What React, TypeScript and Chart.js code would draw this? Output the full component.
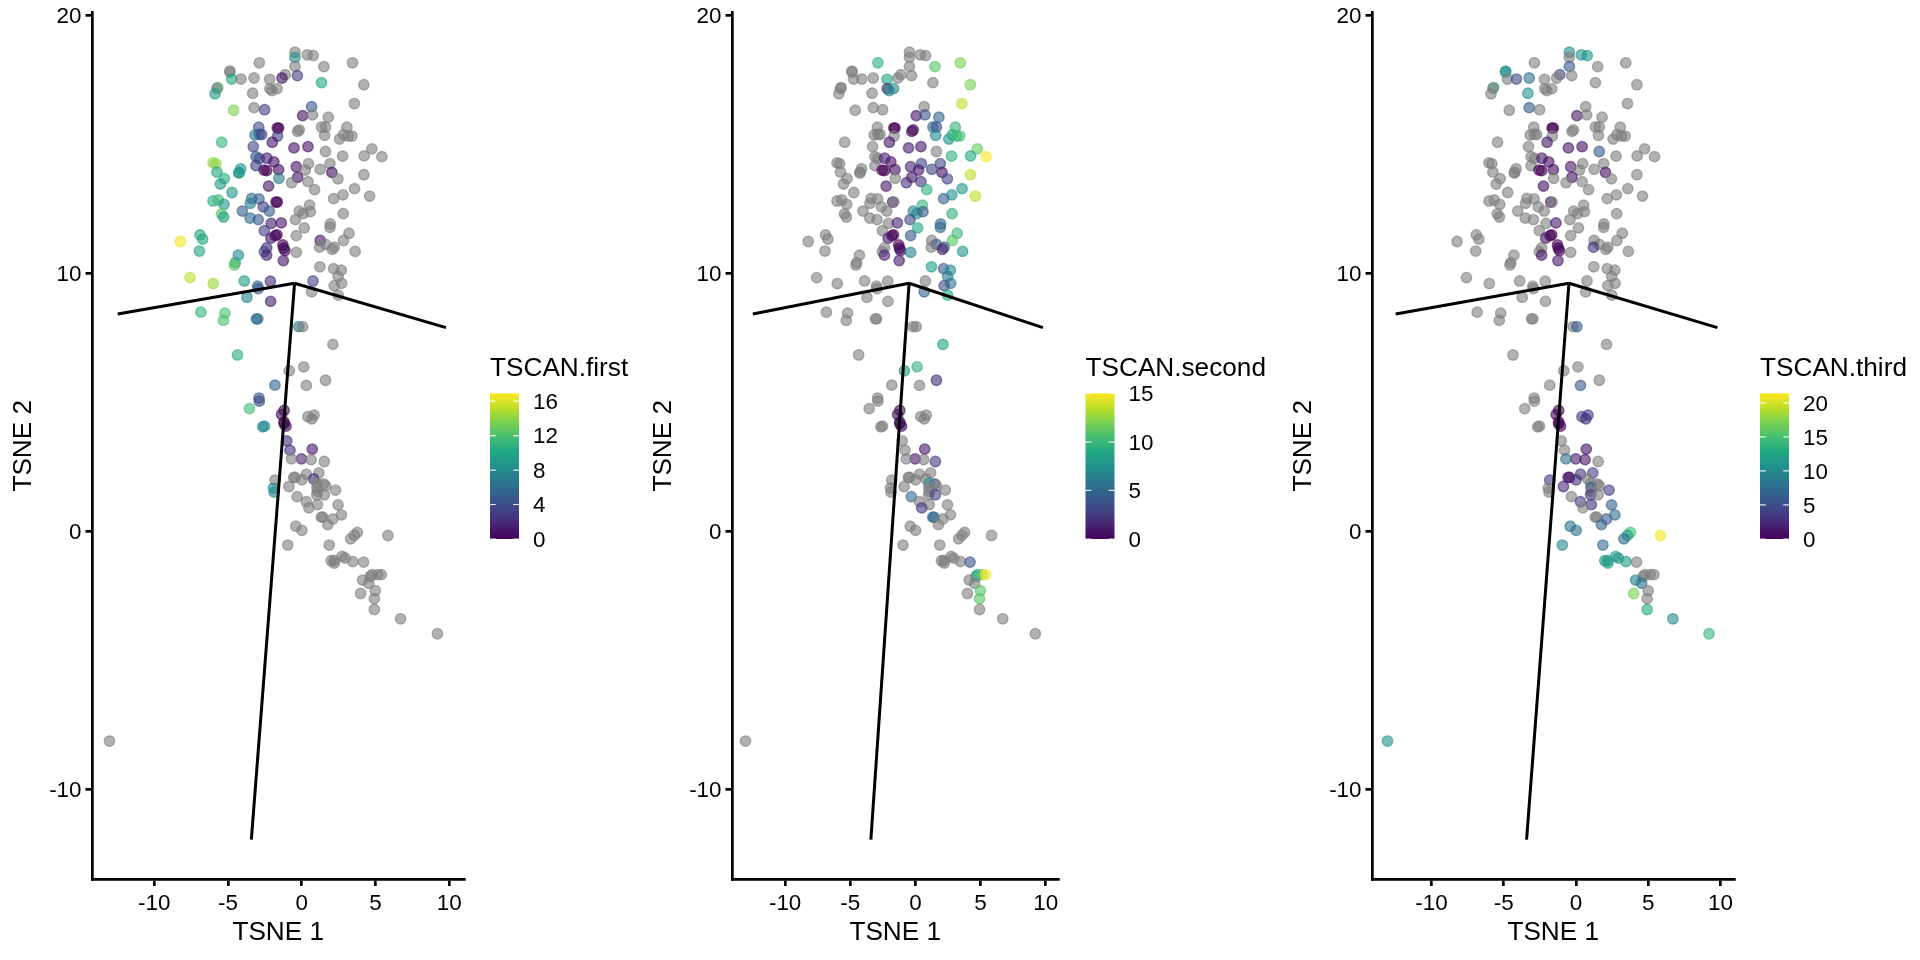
import { useEffect, useRef } from "react"
import { Chart, registerables } from "chart.js"

Chart.register(...registerables)

const _ = null

const tsne1 = [
  -0.46, -0.46, 0.37, 0.78, -2.88, -0.46, 1.5, 3.44, -4.87, -4.87,
  -4.75, -4.12, -3.24, -2.18, -1.12, -1.34, -0.3, 1.34, 4.21, -5.7,
  -5.75, -5.88, -3.33, -2.16, -2.02, -1.68, 3.56, -4.62, -3.24, -2.52,
  0.67, 0.06, 0.73, 1.8, -2.92, -3.17, -2.88, -2.72, -1.66, -1.57,
  -1.64, -2.0, -0.17, -0.28, 1.34, 1.61, 3.06, 1.55, 2.56, 2.83,
  3.15, 3.4, -5.43, -3.29, -0.53, 0.42, 4.75, 1.61, 2.77, 4.23,
  5.43, -3.11, -2.88, -2.36, -1.89, -6.02, -5.82, 0.46, 1.91, -3.11,
  -0.37, -4.14, -4.26, -4.26, -5.75, -2.56, -2.38, -1.57, 0.24, 1.25,
  2.04, 4.21, -5.25, -5.52, -1.55, -0.28, -0.69, 0.42, 2.45, -2.25,
  0.87, 3.58, -4.73, 4.6, 2.79, 2.16, -3.4, -2.9, -6.02, -5.66,
  -3.49, -1.75, -1.66, -5.27, -2.61, 0.53, -0.17, -2.2, -4.03, 0.1,
  0.58, 2.81, -5.45, -5.3, -3.51, -2.95, -0.42, -2.07, -1.39, 1.93,
  1.91, 0.17, -2.54, 3.2, -0.37, -1.68, -1.8, -2.09, -6.9, -6.72,
  -8.23, -6.94, 1.25, 2.83, 1.61, 1.21, 2.2, 2.07, 3.62, -1.28,
  -1.23, -1.14, -2.38, -2.54, -2.38, -0.37, -4.3, -4.51, -4.57, -1.25,
  1.23, 2.16, 2.68, 2.47, -7.58, -6.0, -3.9, -2.13, 0.76, 2.7,
  2.2, -2.99, -2.95, 0.67, 2.47, -3.72, -2.11, -6.84, -5.21, -5.31,
  -3.08, -2.98, -0.2, 0.06, 2.11, -4.36, 0.13, -0.85, -1.82, 0.31,
  1.61, -2.9, -2.88, -3.55, -1.2, -1.37, 0.41, 0.83, 0.68, -1.2,
  -1.2, -1.07, -2.53, -2.65, -1.02, 0.71, -0.8, -0.02, -0.7, 0.63,
  1.53, 1.16, 0.31, -0.55, -0.45, 0.01, -1.82, 0.81, 1.48, 1.03,
  1.03, 1.61, -0.87, -1.92, -1.87, 2.29, 1.06, 1.01, 1.53, -0.32,
  0.31, 1.06, 2.46, 0.48, 2.69, 1.33, 1.43, 2.11, 1.76, -0.4,
  0.01, 3.77, 3.56, 3.31, 5.84, -0.95, 1.86, 2.74, 2.94, 1.99,
  2.19, 2.21, 3.46, 4.19, 4.77, 4.64, 5.14, 5.39, 4.12, 4.54,
  4.99, 3.99, 4.92, 4.92, 6.7, 9.2, -13.04,
]

const tsne2 = [
  18.58, 18.38, 18.48, 18.45, 18.17, 18.03, 18.02, 18.17, 17.85, 17.81,
  17.54, 17.54, 17.58, 17.53, 17.71, 17.58, 17.67, 17.4, 17.32, 17.21,
  17.18, 16.97, 16.99, 17.17, 17.09, 17.17, 16.59, 16.33, 16.43, 16.35,
  16.47, 16.12, 16.15, 16.06, 15.67, 15.37, 15.4, 15.39, 15.64, 15.64,
  15.33, 15.09, 15.57, 15.51, 15.68, 15.68, 15.67, 15.36, 15.21, 15.38,
  15.33, 15.33, 15.09, 14.92, 14.87, 14.92, 14.83, 14.73, 14.55, 14.56,
  14.53, 14.53, 14.46, 14.47, 14.33, 14.29, 14.26, 14.26, 14.26, 14.18,
  14.14, 14.06, 13.93, 13.89, 13.93, 14.01, 13.99, 14.03, 14.01, 14.04,
  13.92, 13.83, 13.68, 13.47, 13.69, 13.73, 13.52, 13.56, 13.67, 13.39,
  13.25, 13.29, 13.14, 13.0, 13.05, 12.9, 12.91, 12.89, 12.81, 12.85,
  12.72, 12.77, 12.77, 12.68, 12.58, 12.65, 12.42, 12.42, 12.42, 12.32,
  12.4, 12.32, 12.31, 12.19, 12.15, 12.09, 12.09, 11.94, 11.96, 11.92,
  11.79, 11.77, 11.66, 11.56, 11.47, 11.5, 11.47, 11.37, 11.5, 11.33,
  11.24, 10.87, 11.28, 11.28, 11.13, 11.02, 11.02, 10.94, 10.86, 11.11,
  10.98, 10.89, 10.99, 10.85, 10.71, 10.82, 10.71, 10.42, 10.33, 10.5,
  10.26, 10.19, 10.13, 9.89, 9.84, 9.61, 9.71, 9.7, 9.71, 9.62,
  9.53, 9.51, 9.41, 9.29, 9.16, 9.08, 8.92, 8.5, 8.46, 8.18,
  8.24, 8.24, 7.94, 7.94, 7.25, 6.84, 6.38, 6.23, 5.67, 5.66,
  5.86, 5.17, 5.05, 4.76, 4.69, 4.53, 4.45, 4.51, 4.36, 4.24,
  4.17, 4.08, 4.08, 4.05, 3.51, 3.19, 3.15, 2.81, 2.81, 2.78,
  2.71, 2.27, 2.22, 2.09, 2.09, 2.0, 1.99, 2.03, 1.84, 1.87,
  1.7, 1.77, 1.74, 1.68, 1.52, 1.6, 1.55, 1.42, 1.42, 1.35,
  1.15, 1.04, 1.03, 0.91, 0.64, 0.55, 0.55, 0.48, 0.26, 0.2,
  0.04, -0.04, -0.15, -0.29, -0.16, -0.53, -0.53, -0.97, -1.04, -1.14,
  -1.13, -1.23, -1.17, -1.19, -1.68, -1.75, -1.68, -1.68, -1.89, -2.01,
  -2.3, -2.41, -2.61, -3.03, -3.39, -3.97, -8.13,
]

const tscanFirst = [
  _, 8, _, _, _, _, _, _, _, _,
  10, _, _, _, _, 1, 3, 10, _, 12,
  _, 9.5, _, _, _, _, _, 13.5, _, 3,
  4.5, 0.7, _, _, 4, 7, 5, 3.5, 0, 0,
  3, 1, _, _, _, _, _, _, _, _,
  _, _, 11, 3.5, 1, 1, _, _, _, _,
  _, 4.5, 4, 1.5, 1, 14, 14, _, _, 3,
  1, 9, 9, 9, 10, 0, 0, 0.5, _, _,
  0.5, _, 10.5, 9, 7, 0.7, _, _, _, 1,
  _, _, 9, _, _, _, 6, 5, 10.5, 11.5,
  7, 0, 0, 9, 3, _, _, 5, 5, _,
  _, _, 12.5, 9.5, 6, 5, _, 1.5, 1, _,
  _, _, 3, _, _, 0, 0, 1, 10, 10,
  16.5, 10, 1, _, _, _, _, _, _, 0,
  0, 0.5, 2, 4, 1.5, _, 8, 10, 12.5, 1,
  _, _, _, _, 15, 14.5, 9, 2, 3.5, _,
  _, 5, 5, _, _, 7.5, 1.5, 11, 12, 12,
  6, 6, 7, _, _, 10.5, _, _, 5.5, _,
  _, 4, 4, 11.5, 0.5, 0.5, _, _, _, 0.2,
  0.2, 0.5, 8, 8, 2, 1, 2.5, 1.5, _, _,
  _, _, _, _, _, _, _, 2, _, _,
  _, _, _, 8, 8, _, _, _, _, _,
  _, _, _, _, _, _, _, _, _, _,
  _, _, _, _, _, _, _, _, _, _,
  _, _, _, _, _, _, _, _, _, _,
  _, _, _, _, _, _, _,
]

const tscanSecond = [
  _, _, _, _, 9.5, _, 11, 12, _, _,
  _, _, _, 9, _, _, _, _, 12, _,
  _, _, _, 1, 7, 7, 13.5, _, _, _,
  _, 1, 4, 5, _, _, _, _, 0, 0,
  _, 1, 0.3, 0.3, 5.5, 3.5, 10, 7, 7.5, 9,
  10, 10.5, _, _, 1.5, 1, 11.5, _, 9.5, 9,
  15, _, _, 1.5, 1, _, _, 3, 3.5, _,
  1.5, _, _, _, _, 0, 0, 0.5, 1, 3,
  0.7, 13.5, _, _, _, 1, 2, 2.5, 3, 1,
  9.5, 8, _, 13.5, 7.5, 4.5, _, _, _, _,
  _, 1, _, _, _, 10, 7, _, _, 7,
  4, 9.5, _, _, _, _, 3.5, _, 1.5, 5,
  5, 9, _, 10, 4, 0, 0, 1, _, _,
  _, _, _, 11, 4, _, 4, 1.5, 8, 0,
  0, 0.5, _, _, 1.5, 6.5, _, _, _, 1,
  8.5, 4, 7, 6.5, _, _, _, _, _, 6,
  3.5, _, _, 4.5, 9, _, _, _, _, _,
  _, _, _, _, 8.5, _, 9.5, 8, _, _,
  2, _, _, _, 0.5, 0.5, _, _, _, 0.2,
  0.2, 0.5, _, _, _, 1, _, 1, _, _,
  2.5, _, _, _, _, _, _, _, 3, 7,
  _, _, _, _, _, _, _, _, 3, 5,
  _, _, _, 2.5, _, 5, 5, _, _, _,
  _, _, _, _, _, _, _, _, _, _,
  _, _, _, 4, 8.5, 9, 11.5, 15, _, _,
  11, _, 11, _, _, _, _,
]

const tscanThird = [
  10, _, 11, 11, _, 6, _, _, 11, 11,
  _, 5, 8, _, 5, _, _, _, _, 13,
  _, _, 11, _, _, _, _, _, 6, _,
  _, 1.5, _, _, _, _, _, _, 0, 0,
  _, 1.5, _, _, _, _, _, _, _, _,
  _, _, _, _, 1.5, 1, _, 6, _, _,
  _, _, _, 1.5, 1, _, _, _, _, _,
  1.5, _, _, _, _, 0, 0, 0.5, _, _,
  1, _, _, _, _, 1, _, _, _, 1,
  _, _, _, _, _, _, _, _, _, _,
  _, 1, _, _, _, _, _, _, _, _,
  _, _, _, _, _, _, _, _, 1.5, _,
  _, _, _, _, _, 0, 0, 1, _, _,
  _, _, _, _, _, 3, _, _, _, 0,
  0, 0.5, _, _, 1.5, _, _, _, _, 1.5,
  _, _, _, _, _, _, _, _, _, _,
  _, _, _, _, _, _, _, _, _, _,
  _, _, _, 6, _, _, _, _, _, 6,
  _, _, _, _, 0.5, 0.5, 4, 4, 3, 0.2,
  0.2, 0.5, _, _, _, 1, _, 1.5, 8, 1.5,
  _, 4, 3.5, 1, 1, 3, 4, _, _, _,
  6, _, 2.5, _, _, 4, _, 3.5, _, _,
  4, 3, 6.5, _, 7.5, _, _, 6, 6.5, 8,
  8, 15, 12, 7.5, 21, 10, 7.5, 12, 11, 11,
  12, 12, 12, _, _, _, _, _, 9, 8,
  _, 17, _, 13, 10, 14, 11,
]

// trajectory: centre node and the three ends
const centreNode = [-0.49, 9.62]
const branchEnds = [
  [-12.48, 8.43],
  [9.78, 7.9],
  [-3.42, -11.95],
]

const xTicks = [-10, -5, 0, 5, 10]
const yTicks = [-10, 0, 10, 20]

const viridis = ["#440154", "#482475", "#414487", "#355f8d", "#2a788e", "#21918c", "#22a884", "#44bf70", "#7ad151", "#bddf26", "#fde725"]

const FONT = "'Liberation Sans', Arial, sans-serif"
const CANVAS_W = 640
const CANVAS_H = 960
const AXIS_LEFT = 92.5
const AXIS_BOTTOM = 879
const AXIS_TOP = 12.5
const BAR_TOP = 393.3
const BAR_BOTTOM = 539

const panels = [
  { name: "TSCAN.first", values: tscanFirst, domainMax: 16.9, legendTicks: [0, 4, 8, 12, 16], left: 0, right: 464, legendX: 490, xMin: -14.19, xMax: 11 },
  { name: "TSCAN.second", values: tscanSecond, domainMax: 15, legendTicks: [0, 5, 10, 15], left: 640, right: 1058, legendX: 1085.5, xMin: -14.04, xMax: 10.94 },
  { name: "TSCAN.third", values: tscanThird, domainMax: 21.4, legendTicks: [0, 5, 10, 15, 20], left: 1280, right: 1734, legendX: 1760, xMin: -14.08, xMax: 10.93 },
]

function hexToRgb(hex: string) {
  return [1, 3, 5].map((i) => parseInt(hex.slice(i, i + 2), 16))
}

function viridisColor(t: number, alpha: number) {
  const pos = Math.min(Math.max(t, 0), 1) * (viridis.length - 1)
  const i = Math.min(Math.floor(pos), viridis.length - 2)
  const a = hexToRgb(viridis[i])
  const b = hexToRgb(viridis[i + 1])
  const rgb = a.map((c, k) => Math.round(c + (b[k] - c) * (pos - i)))
  return `rgba(${rgb[0]}, ${rgb[1]}, ${rgb[2]}, ${alpha})`
}

function pointColor(value: number | null, domainMax: number, alpha: number) {
  if (value === null) return `rgba(127, 127, 127, ${alpha})`
  return viridisColor(value / domainMax, alpha)
}

function Panel({ panel }: { panel: (typeof panels)[number] }) {
  const chartRef = useRef<HTMLCanvasElement>(null)

  useEffect(() => {
    if (!chartRef.current) return

    // colour bar and its title, at the right of the plot
    const legendPlugin = {
      id: "colourBar",
      afterDraw(chart: Chart) {
        const ctx = chart.ctx
        const barX = panel.legendX - panel.left
        const barW = 29
        ctx.save()
        ctx.fillStyle = "#000"
        ctx.textBaseline = "middle"
        ctx.textAlign = "left"
        ctx.font = `26.2px ${FONT}`
        ctx.fillText(panel.name, barX, 369)
        const gradient = ctx.createLinearGradient(0, BAR_BOTTOM, 0, BAR_TOP)
        viridis.forEach((c, i) => gradient.addColorStop(i / (viridis.length - 1), c))
        ctx.fillStyle = gradient
        ctx.fillRect(barX, BAR_TOP, barW, BAR_BOTTOM - BAR_TOP)
        ctx.font = `22.4px ${FONT}`
        panel.legendTicks.forEach((v) => {
          const y = BAR_BOTTOM - (v / panel.domainMax) * (BAR_BOTTOM - BAR_TOP)
          ctx.strokeStyle = "rgba(255, 255, 255, 0.85)"
          ctx.lineWidth = 1.2
          ctx.beginPath()
          ctx.moveTo(barX, y)
          ctx.lineTo(barX + 5.8, y)
          ctx.moveTo(barX + barW - 5.8, y)
          ctx.lineTo(barX + barW, y)
          ctx.stroke()
          ctx.fillStyle = "#000"
          ctx.fillText(String(v), barX + barW + 14, y + 1.5)
        })
        ctx.restore()
      },
    }

    const cells = tsne1.map((x, i) => ({ x, y: tsne2[i] }))
    const lines = branchEnds.map((end) => ({
      type: "scatter" as const,
      data: [
        { x: centreNode[0], y: centreNode[1] },
        { x: end[0], y: end[1] },
      ],
      showLine: true,
      borderColor: "#000",
      borderWidth: 3,
      pointRadius: 0,
      order: 0,
    }))

    const axisFont = { family: FONT, size: 22.4 }
    const titleFont = { family: FONT, size: 26.2 }
    const axisGrid = { drawOnChartArea: false, color: "#000", tickLength: 7, lineWidth: 2.7 }
    const axisBorder = { color: "#000", width: 2.7 }

    const chart = new Chart(chartRef.current, {
      type: "scatter",
      data: {
        datasets: [
          {
            data: cells,
            pointRadius: 5.2,
            pointBorderWidth: 1.4,
            pointBackgroundColor: panel.values.map((v) => pointColor(v, panel.domainMax, 0.6)),
            pointBorderColor: panel.values.map((v) => pointColor(v, panel.domainMax, 0.6)),
            order: 1,
          },
          ...lines,
        ],
      },
      options: {
        responsive: false,
        animation: false,
        layout: {
          padding: { left: 0, top: AXIS_TOP, right: CANVAS_W - (panel.right - panel.left), bottom: 0 },
        },
        plugins: { legend: { display: false }, tooltip: { enabled: false } },
        scales: {
          x: {
            type: "linear",
            min: panel.xMin,
            max: panel.xMax,
            afterBuildTicks: (scale) => {
              scale.ticks = xTicks.map((value) => ({ value }))
            },
            afterFit: (scale) => {
              scale.height = CANVAS_H - AXIS_BOTTOM
              scale.paddingLeft = 0
              scale.paddingRight = 0
            },
            ticks: { color: "#000", font: axisFont, padding: 4, maxRotation: 0, autoSkip: false, callback: (v) => String(v) },
            grid: axisGrid,
            border: axisBorder,
            title: { display: true, text: "TSNE 1", color: "#000", font: titleFont, padding: { top: 5, bottom: 12 } },
          },
          y: {
            type: "linear",
            min: -13.48,
            max: 20.12,
            afterBuildTicks: (scale) => {
              scale.ticks = yTicks.map((value) => ({ value }))
            },
            afterFit: (scale) => {
              scale.width = AXIS_LEFT
              scale.paddingTop = 0
              scale.paddingBottom = 0
            },
            ticks: { color: "#000", font: axisFont, padding: 4, labelOffset: 1.5, autoSkip: false, callback: (v) => String(v) },
            grid: axisGrid,
            border: axisBorder,
            title: { display: true, text: "TSNE 2", color: "#000", font: titleFont, padding: { top: 8.5, bottom: 4 } },
          },
        },
      },
      plugins: [legendPlugin],
    })

    return () => {
      chart.destroy()
    }
  }, [panel])

  return (
    <canvas
      ref={chartRef}
      width={CANVAS_W}
      height={CANVAS_H}
      style={{ position: "absolute", left: panel.left, top: 0, width: CANVAS_W, height: CANVAS_H, display: "block" }}
    />
  )
}

export default function App() {
  return (
    <div style={{ position: "absolute", left: 0, top: 0, width: 1920, height: 960, background: "#fff", overflow: "hidden" }}>
      {panels.map((panel) => (
        <Panel key={panel.name} panel={panel} />
      ))}
    </div>
  )
}
